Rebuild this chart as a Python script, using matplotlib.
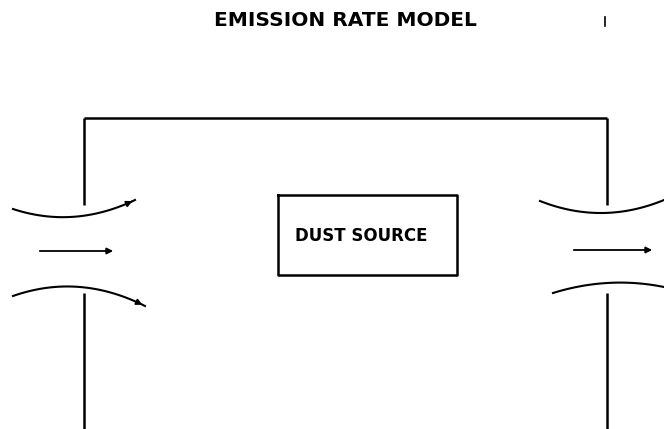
import numpy as np
import matplotlib.pyplot as plt

plt.rcParams['font.family'] = ['DejaVu Sans']

# diagram geometry in pixel coordinates (x right, y down)
title = "EMISSION RATE MODEL"
source_label = "DUST SOURCE"

room_x = [84, 607]
room_top = 118
wall_gap = [(118, 205), (293, 429)]   # upper and lower wall pieces

source_box = [278, 195, 457, 275]     # left, top, right, bottom

# flow curves: (start, middle, end) points; arrow if flagged
flow_curves = [
    ([13, 70, 135], [209, 217, 200], True),
    ([13, 80, 145], [296, 287, 306], True),
    ([540, 600, 664], [201, 213, 200], False),
    ([553, 607, 664], [293, 283, 287], False),
]
flow_arrows = [
    ([37, 116], [251, 251]),
    ([571, 655], [250, 250]),
]

fig = plt.figure(figsize=(6.64, 4.29), dpi=100)
ax = fig.add_axes([0, 0, 1, 1])
ax.set_xlim(0, 664)
ax.set_ylim(429, 0)
ax.axis('off')

lw = 1.8
# walls
ax.plot(room_x, [room_top, room_top], color='black', lw=lw, solid_capstyle='butt')
for x in room_x:
    for y0, y1 in wall_gap:
        ax.plot([x, x], [y0, y1], color='black', lw=lw, solid_capstyle='butt')

# dust source box
l, t, r, b = source_box
ax.plot([l, r, r, l, l], [t, t, b, b, t], color='black', lw=lw)
ax.text(361, 236, source_label, ha='center', va='center',
        fontsize=12, fontweight='bold')

# curved streamlines
for xs, ys, arrow in flow_curves:
    c = np.polyfit(xs, ys, 2)
    xx = np.linspace(xs[0], xs[-1], 60)
    yy = np.polyval(c, xx)
    ax.plot(xx, yy, color='black', lw=1.5)
    if arrow:
        ax.annotate('', xy=(xx[-1], yy[-1]), xytext=(xx[-4], yy[-4]),
                    arrowprops=dict(arrowstyle='-|>', color='black', lw=1.2,
                                    mutation_scale=9))

# straight arrows
for xs, ys in flow_arrows:
    ax.annotate('', xy=(xs[1], ys[1]), xytext=(xs[0], ys[0]),
                arrowprops=dict(arrowstyle='-|>', color='black', lw=1.3,
                                mutation_scale=9))

ax.text(345, 21, title, ha='center', va='center', fontsize=14.5, fontweight='bold')
ax.plot([605, 605], [17, 26], color='black', lw=1.2)

fig.savefig('out.png', dpi=100)
